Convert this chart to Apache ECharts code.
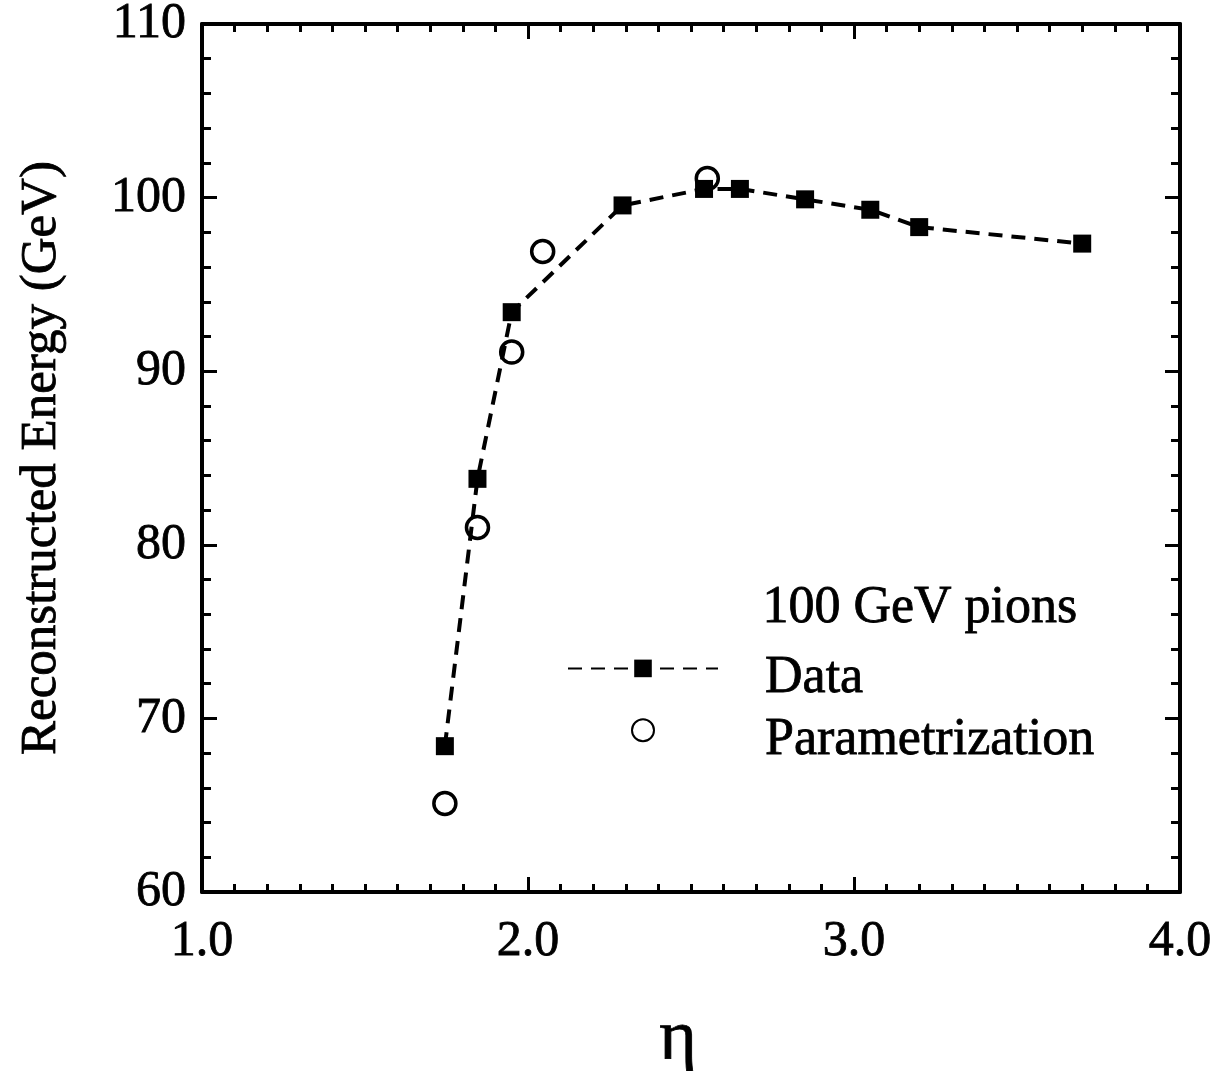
<!DOCTYPE html>
<html>
<head>
<meta charset="utf-8">
<title>Reconstructed Energy vs η</title>
<script src="https://cdn.jsdelivr.net/npm/echarts@6/dist/echarts.min.js"></script>
<style>
  html, body { margin: 0; padding: 0; background: #fff; }
  #chart { width: 1216px; height: 1071px; }
</style>
</head>
<body>
<div id="chart"></div>
<script>
// Measured points: 100 GeV pions, reconstructed energy vs pseudorapidity
const dataEta    = [1.745, 1.845, 1.95, 2.29, 2.54, 2.65, 2.85, 3.05, 3.20, 3.70];
const dataEnergy = [68.4, 83.8, 93.4, 99.55, 100.5, 100.5, 99.9, 99.3, 98.3, 97.35];

// Parametrization values
const paramEta    = [1.745, 1.845, 1.95, 2.045, 2.55];
const paramEnergy = [65.1, 81.0, 91.1, 96.9, 101.1];

// Axis ranges and tick labels
const xRange = [1.0, 4.0];
const yRange = [60, 110];
const xTickLabels = ['1.0', '2.0', '3.0', '4.0'];
const yTickLabels = ['60', '70', '80', '90', '100', '110'];

const FONT = '"Liberation Serif", "DejaVu Serif", serif';
const INK = '#000';
// a hairline outline gives the serif glyphs a slightly heavier print look
const heavy = { textBorderColor: INK, textBorderWidth: 0.8 };

const pair = (xs, ys) => xs.map((x, i) => [x, ys[i]]);

const xAxisBase = {
  type: 'value', min: xRange[0], max: xRange[1], interval: 1,
  axisLine: { show: true, onZero: false, lineStyle: { color: INK, width: 4 } },
  axisTick: { show: true, inside: true, length: 15, lineStyle: { color: INK, width: 3 } },
  minorTick: { show: true, splitNumber: 10, length: 8, lineStyle: { color: INK, width: 3 } },
  splitLine: { show: false }
};
const yAxisBase = {
  type: 'value', min: yRange[0], max: yRange[1], interval: 10,
  axisLine: { show: true, onZero: false, lineStyle: { color: INK, width: 4 } },
  axisTick: { show: true, inside: true, length: 15, lineStyle: { color: INK, width: 3 } },
  minorTick: { show: true, splitNumber: 5, length: 9, lineStyle: { color: INK, width: 3 } },
  splitLine: { show: false }
};

const chart = echarts.init(document.getElementById('chart'), null, { renderer: 'canvas' });
chart.setOption({
  backgroundColor: '#fff',
  animation: false,
  grid: { left: 202, right: 36, top: 24, bottom: 179, containLabel: false, outerBoundsMode: 'none' },
  xAxis: [
    Object.assign({}, xAxisBase, {
      position: 'bottom',
      name: 'η', nameLocation: 'middle', nameGap: 112,
      nameTextStyle: Object.assign({ fontFamily: FONT, fontSize: 72, color: INK, padding: [0, 26, 0, 0] }, heavy),
      axisLabel: Object.assign({
        margin: 25, fontFamily: FONT, fontSize: 50, color: INK,
        formatter: v => xTickLabels[Math.round(v - xRange[0])]
      }, heavy)
    }),
    Object.assign({}, xAxisBase, { position: 'top', axisLabel: { show: false } })
  ],
  yAxis: [
    Object.assign({}, yAxisBase, {
      position: 'left',
      name: 'Reconstructed Energy (GeV)', nameLocation: 'middle', nameGap: 135,
      nameTextStyle: Object.assign({ fontFamily: FONT, fontSize: 51, color: INK }, heavy),
      axisLabel: Object.assign({
        margin: 16, fontFamily: FONT, fontSize: 50, color: INK,
        formatter: v => yTickLabels[Math.round((v - yRange[0]) / 10)]
      }, heavy)
    }),
    Object.assign({}, yAxisBase, { position: 'right', axisLabel: { show: false } })
  ],
  legend: {
    orient: 'vertical',
    left: 562, top: 647,
    itemWidth: 150, itemHeight: 22, itemGap: 9,
    formatter: name => '{t|' + name + '}',
    textStyle: Object.assign({
      fontFamily: FONT, fontSize: 52, color: INK, padding: [0, 0, 0, 42],
      rich: { t: { fontFamily: FONT, fontSize: 52, color: INK, padding: [20, 0, 0, 0] } }
    }, heavy),
    data: ['Data', 'Parametrization']
  },
  graphic: [{
    type: 'text', left: 762, top: 582,
    style: { text: '100 GeV pions', font: '52px ' + FONT, fill: INK, stroke: INK, lineWidth: 0.8 }
  }],
  series: [
    {
      name: 'Data', type: 'line',
      data: pair(dataEta, dataEnergy),
      symbol: 'rect', symbolSize: 18,
      itemStyle: { color: INK, opacity: 1 },
      lineStyle: { color: INK, width: 4, type: [14, 9] }
    },
    {
      name: 'Parametrization', type: 'scatter',
      data: pair(paramEta, paramEnergy),
      symbol: 'circle', symbolSize: 22,
      itemStyle: { color: '#fff', borderColor: INK, borderWidth: 3.5, opacity: 1 }
    }
  ]
});
</script>
</body>
</html>
